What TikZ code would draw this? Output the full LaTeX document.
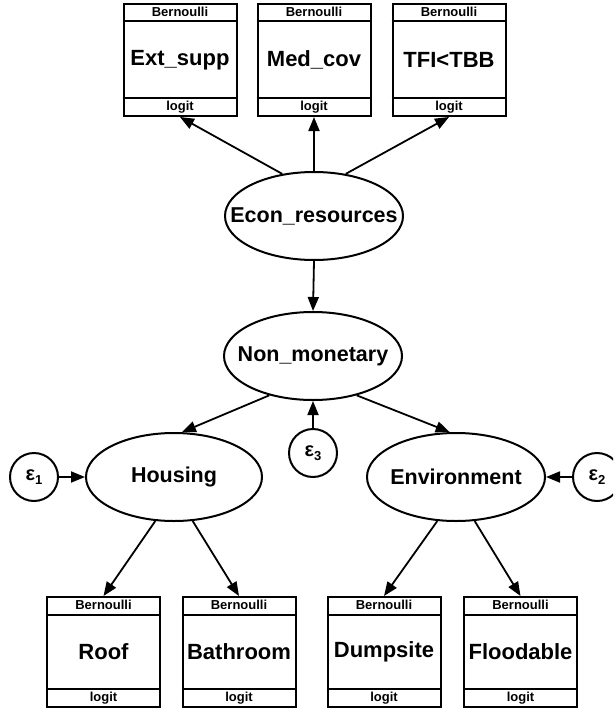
\documentclass[tikz,border=0pt]{standalone}
\usepackage{fontspec}
\setmainfont{Liberation Sans}
\usetikzlibrary{arrows.meta,shapes.geometric,calc}
\newcommand{\obsbox}[5]{%
  % #1 name, #2 x, #3 y centre, #4 height, #5 label
  \node[boxnode, minimum height=#4pt] (#1) at (#2,#3) {#5};
  \path (#1.north west) ++(0,18.5) coordinate (#1-a);
  \path (#1.south west) ++(0,-19) coordinate (#1-b);
  \draw[lw] (#1-a) -- (#1-a -| #1.east);
  \draw[lw] (#1-b) -- (#1-b -| #1.east);
  \node[small] (#1-dist) at ($(#1.north)!0.5!(#1-a -| #1.north)$) {Bernoulli};
  \node[small] (#1-link) at ($(#1.south)!0.5!(#1-b -| #1.south)$) {logit};
}
\begin{document}
\begin{tikzpicture}[x=1pt,y=-1pt,
  lw/.style={line width=2pt},
  boxnode/.style={draw, lw, minimum width=113pt, inner sep=0pt, font=\bfseries\fontsize{22}{22}\selectfont},
  latent/.style={draw, lw, ellipse, minimum width=178pt, minimum height=88pt, inner sep=0pt, font=\bfseries\fontsize{21.5}{21.5}\selectfont},
  errnode/.style={draw, lw, circle, minimum size=48pt, inner sep=0pt, font=\bfseries\fontsize{20}{20}\selectfont},
  small/.style={inner sep=0pt, font=\bfseries\fontsize{13}{13}\selectfont},
  arr/.style={line width=1.8pt, -{Triangle[length=14pt,width=11pt]}},
]
\useasboundingbox (0,0) rectangle (613,709);
\clip (0,0) rectangle (613,709);

% observed boxes, top
\obsbox{ext}{180}{60}{112}{Ext\_supp}
\obsbox{med}{314}{60}{112}{Med\_cov}
\obsbox{tfi}{449}{60}{112}{TFI<TBB}
% observed boxes, bottom
\obsbox{roof}{103.5}{652}{110}{Roof}
\obsbox{bath}{239}{652}{110}{Bathroom}
\obsbox{dump}{384}{652}{110}{Dumpsite}
\obsbox{flood}{520.5}{652}{110}{Floodable}

% latent variables
\node[latent] (econ) at (314,216) {\makebox[0pt]{Econ\_resources}};
\node[latent] (nm) at (313,356) {\makebox[0pt]{Non\_monetary}};
\node[latent, minimum width=176pt] (hous) at (174,477) {\makebox[0pt]{Housing}};
\node[latent] (env) at (456,477) {\makebox[0pt]{Environment}};

% errors
\node[errnode] (e1) at (34,477) {ε\raisebox{-4pt}{\fontsize{13}{13}\selectfont 1}};
\node[errnode] (e2) at (597,477) {ε\raisebox{-4pt}{\fontsize{13}{13}\selectfont 2}};
\node[errnode] (e3) at (313,453) {ε\raisebox{-4pt}{\fontsize{13}{13}\selectfont 3}};

% paths
\draw[arr] (econ.127) -- (ext.south);
\draw[arr] (econ.north) -- (med.south);
\draw[arr] (econ.53) -- (tfi.south);
\draw[arr] (econ.south) -- (nm.north);
\draw[arr] (nm.222) -- (hous.80);
\draw[arr] (nm.318) -- (env.98);
\draw[arr] (e3.north) -- (nm.south);
\draw[arr] (e1.east) -- (hous.west);
\draw[arr] (e2.west) -- (env.east);
\draw[arr] (hous.247) -- (roof.north);
\draw[arr] (hous.293) -- (bath.north);
\draw[arr] (env.247) -- (dump.north);
\draw[arr] (env.293) -- (flood.north);
\end{tikzpicture}
\end{document}
